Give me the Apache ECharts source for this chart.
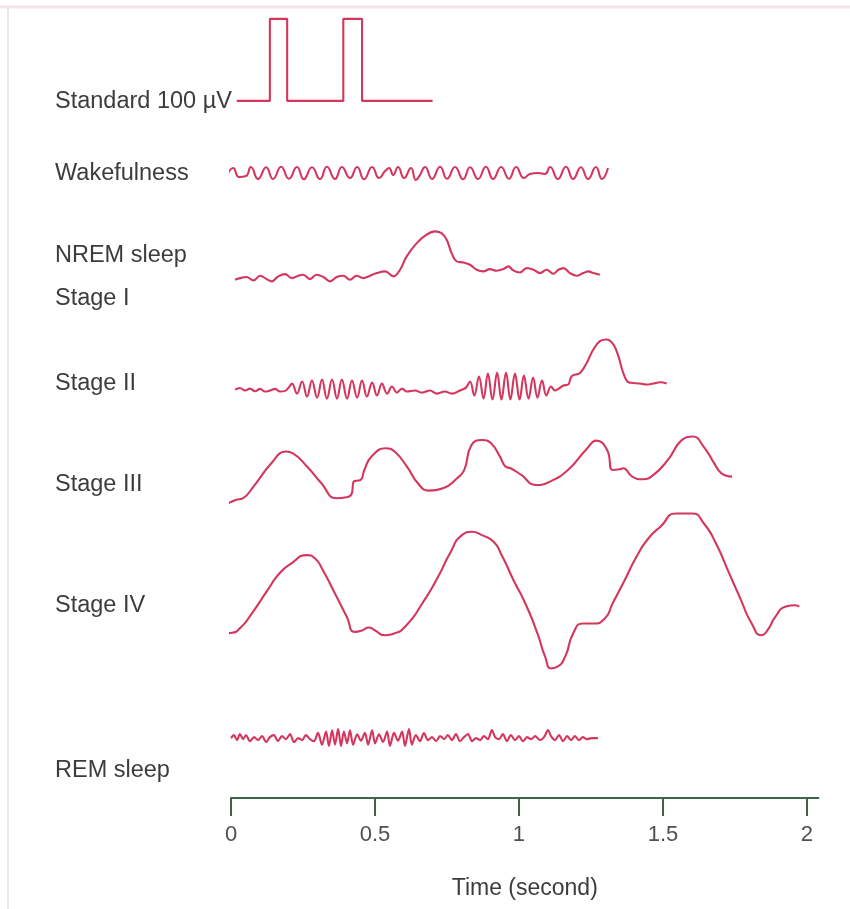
<!DOCTYPE html>
<html>
<head>
<meta charset="utf-8">
<title>EEG sleep stages</title>
<script src="https://cdn.jsdelivr.net/npm/echarts@6/dist/echarts.min.js"></script>
<style>
  html, body { margin: 0; padding: 0; background: #fff; }
  #chart { width: 850px; height: 909px; }
</style>
</head>
<body>
<div id="chart"></div>
<script>
// time in seconds, amplitude in microvolts (relative to each trace's own baseline)
const timeTicks = [0, 0.5, 1, 1.5, 2];
const rowLabels = ['Standard 100 µV', 'Wakefulness', 'NREM sleep', 'Stage I', 'Stage II', 'Stage III', 'Stage IV', 'REM sleep'];

const standardTrace = [[0.02, 0], [0.135, 0], [0.135, 100], [0.195, 100], [0.195, 0], [0.39, 0], [0.39, 100], [0.455, 100], [0.455, 0], [0.70, 0]];

const wakeTrace = [[-0.010, 0], [0.007, 6.1], [0.028, -4.9], [0.052, -3.7], [0.069, 7.3], [0.094, -7.3], [0.122, 7.0], [0.146, -7.3], [0.174, 7.6], [0.201, -7.0], [0.229, 7.3], [0.253, -7.6], [0.281, 7.0], [0.309, -7.3], [0.333, 7.6], [0.361, -7.3], [0.385, 7.3], [0.413, -6.1], [0.438, 7.3], [0.462, -7.6], [0.490, 7.3], [0.514, -6.1], [0.535, 2.4], [0.549, 6.1], [0.563, -2.4], [0.580, 7.3], [0.601, -6.1], [0.625, 6.1], [0.642, -8.5], [0.656, -2.4], [0.674, 7.3], [0.698, -7.3], [0.726, 7.6], [0.750, -7.0], [0.778, 7.3], [0.806, -7.6], [0.830, 7.0], [0.858, -7.3], [0.885, 7.6], [0.910, -7.3], [0.938, 7.3], [0.965, -7.0], [0.990, 7.3], [1.017, -6.1], [1.038, -1.2], [1.066, 0], [1.090, -1.2], [1.108, 7.3], [1.135, -7.3], [1.163, 7.6], [1.188, -7.3], [1.215, 7.0], [1.240, -7.3], [1.267, 7.3], [1.288, -7.3], [1.309, 6.1]];

const stage1Trace = [[0.014, -6.1], [0.031, -4.1], [0.054, -2.8], [0.078, -6.9], [0.101, -1.2], [0.124, -5.3], [0.141, -8.1], [0.164, -2.0], [0.188, 0.8], [0.211, -4.1], [0.234, -1.2], [0.251, 0], [0.274, -5.3], [0.297, 0], [0.321, -2.8], [0.344, -8.1], [0.367, -2.8], [0.390, -1.2], [0.413, -6.1], [0.436, -1.2], [0.459, -4.1], [0.483, -1.2], [0.506, 2.0], [0.535, 4.1], [0.564, -2.0], [0.587, 6.1], [0.610, 22.4], [0.645, 38.6], [0.679, 48.8], [0.708, 52.9], [0.731, 50.8], [0.749, 42.7], [0.766, 26.4], [0.784, 16.3], [0.807, 15.0], [0.830, 12.2], [0.853, 6.1], [0.876, 4.1], [0.899, 6.9], [0.922, 4.9], [0.946, 6.9], [0.963, 10.2], [0.980, 5.3], [1.003, 2.8], [1.027, 8.1], [1.050, 6.1], [1.073, 2.0], [1.096, 6.1], [1.119, 1.2], [1.137, 6.1], [1.154, 8.1], [1.177, 2.0], [1.200, -1.2], [1.223, 2.0], [1.241, 4.1], [1.258, 2.0], [1.281, 0]];

const stage2Trace = [[0.014, 0], [0.031, 2.0], [0.049, -1.2], [0.066, 1.2], [0.083, -2.0], [0.101, 0.8], [0.118, -2.4], [0.135, -1.2], [0.153, 0.8], [0.170, -2.4], [0.188, -1.6], [0.200, 2.4],
  [0.212, 7.3], [0.229, -4.9], [0.247, 9.8], [0.264, -8.5], [0.281, 11.0], [0.299, -9.8], [0.316, 12.2], [0.333, -11.0], [0.351, 12.2], [0.368, -11.0], [0.385, 12.2], [0.403, -11.0], [0.420, 11.0], [0.438, -9.8], [0.455, 11.0], [0.472, -8.5], [0.490, 8.5], [0.507, -7.3], [0.524, 7.3], [0.542, -4.9], [0.559, 3.7], [0.576, -3.7], [0.594, 1.2], [0.611, -2.4],
  [0.639, -1.2], [0.663, -3.7], [0.691, -1.2], [0.715, -4.9], [0.743, -2.4], [0.767, -4.9], [0.795, -1.2], [0.816, 2.4],
  [0.830, 9.8], [0.845, -7.3], [0.861, 15.9], [0.877, -11.0], [0.892, 19.5], [0.908, -12.2], [0.924, 20.7], [0.939, -12.2], [0.955, 20.7], [0.970, -12.2], [0.986, 19.5], [1.002, -12.2], [1.017, 17.1], [1.033, -11.0], [1.049, 14.6], [1.064, -9.8], [1.080, 11.0], [1.095, -7.3], [1.111, 3.7], [1.125, -1.2],
  [1.137, 0.8], [1.154, 4.9], [1.171, 6.1], [1.183, 16.3], [1.212, 20.3], [1.235, 32.5], [1.258, 48.8], [1.281, 59.0], [1.304, 61.0], [1.328, 54.9], [1.345, 40.7], [1.362, 20.3], [1.380, 8.9], [1.397, 8.1], [1.420, 7.3], [1.443, 6.1], [1.466, 7.3], [1.490, 8.9], [1.513, 7.3]];

const stage3Trace = [[-0.021, -42.7], [0.016, -36.6], [0.041, -34.6], [0.078, -20.3], [0.140, 8.1], [0.190, 22.4], [0.215, 20.3], [0.264, 4.1], [0.314, -16.3], [0.364, -34.6], [0.401, -33.4], [0.419, -29.3], [0.426, -14.2], [0.450, -12.2], [0.463, 0], [0.488, 16.3], [0.537, 26.4], [0.568, 22.4], [0.611, 4.1], [0.649, -16.3], [0.686, -25.2], [0.736, -22.4], [0.785, -10.2], [0.810, 0], [0.835, 30.5], [0.872, 36.6], [0.903, 32.5], [0.934, 16.3], [0.953, 4.1], [0.971, 2.0], [1.008, -6.1], [1.058, -18.3], [1.108, -14.2], [1.170, 0], [1.232, 24.4], [1.269, 35.8], [1.306, 24.4], [1.325, 0], [1.349, 0.8], [1.362, 2.0], [1.393, -8.1], [1.430, -11.4], [1.467, -6.1], [1.517, 12.2], [1.566, 36.6], [1.604, 40.7], [1.641, 28.5], [1.678, 8.1], [1.703, -4.1], [1.740, -8.1]];

const stage4Trace = [[-0.025, -39.4], [0.002, -38.6], [0.030, -33.4], [0.072, -15.1], [0.127, 13.4], [0.168, 33.7], [0.209, 45.9], [0.264, 56.1], [0.292, 52.0], [0.319, 37.8], [0.361, 9.4], [0.402, -19.1], [0.430, -37.4], [0.457, -35.4], [0.478, -32.1], [0.499, -35.4], [0.533, -41.5], [0.567, -39.4], [0.609, -29.3], [0.664, -2.8], [0.719, 29.7], [0.760, 58.2], [0.802, 80.5], [0.836, 84.6], [0.871, 80.5], [0.912, 72.4], [0.940, 56.1], [0.981, 25.6], [1.022, -2.8], [1.064, -39.4], [1.091, -67.9], [1.112, -82.1], [1.132, -80.1], [1.160, -67.9], [1.188, -39.4], [1.222, -27.2], [1.257, -27.2], [1.298, -21.1], [1.325, -2.8], [1.367, 25.6], [1.408, 54.1], [1.449, 76.4], [1.491, 90.7], [1.546, 106.9], [1.601, 106.9], [1.642, 94.7], [1.684, 70.3], [1.725, 37.8], [1.766, 5.3], [1.808, -27.2], [1.842, -41.5], [1.863, -35.4], [1.890, -19.1], [1.925, -6.9], [1.959, -4.9], [1.973, -6.9]];

const remTrace = [[0.000, 0], [0.010, 3.7], [0.021, -2.4], [0.031, 4.9], [0.042, -1.2], [0.052, 3.7], [0.066, -3.7], [0.080, 1.2], [0.094, -2.4], [0.108, 2.4], [0.122, -4.9], [0.135, 1.2], [0.149, 3.7], [0.163, -3.7], [0.177, 2.4], [0.191, -1.2], [0.205, 4.9], [0.219, -4.9], [0.233, 0], [0.247, -2.4], [0.260, 3.7], [0.274, -1.2], [0.288, -3.7],
  [0.302, 6.4], [0.316, -7.9], [0.330, 7.9], [0.340, -9.5], [0.351, 9.5], [0.361, -7.9], [0.372, 11.0], [0.382, -9.5], [0.392, 7.9], [0.403, -6.4], [0.413, 9.5], [0.424, -7.9], [0.438, 4.8], [0.451, -3.1], [0.465, 6.4], [0.476, -7.9], [0.490, 9.5], [0.500, -6.4], [0.514, 4.8], [0.528, -4.8], [0.542, 7.9], [0.552, -9.5], [0.566, 6.4], [0.580, -3.1], [0.594, 7.9], [0.604, -9.5], [0.618, 11.0], [0.628, -7.9],
  [0.642, 3.7], [0.656, -3.7], [0.670, 6.1], [0.684, -2.4], [0.698, 1.2], [0.712, -3.7], [0.726, 2.4], [0.740, -1.2], [0.753, 3.7], [0.767, -2.4], [0.781, 4.9], [0.795, -3.7], [0.809, 1.2], [0.823, 4.9], [0.837, -3.7], [0.851, 0], [0.865, -2.4], [0.878, 2.4], [0.892, -1.2], [0.906, 9.8], [0.917, 1.2], [0.931, -1.2], [0.944, 4.9], [0.958, -3.7], [0.972, 3.7], [0.986, -2.4], [1.000, 2.4], [1.014, -3.7], [1.028, 1.2], [1.042, -1.2], [1.056, 2.4], [1.073, -2.4], [1.087, 1.2], [1.101, 9.8], [1.111, 2.4], [1.125, -2.4], [1.139, 3.7], [1.153, -3.7], [1.167, 2.4], [1.181, -2.4], [1.194, 2.4], [1.208, -2.4], [1.222, 1.2], [1.236, -1.2], [1.253, 0], [1.274, 0]];

// baseline of each trace on the shared microvolt axis
const baselines = { standard: 850, wake: 762, stage1: 638, stage2: 498, stage3: 400, stage4: 240, rem: 73 };

const lineColor = '#d4375d';
const textColor = '#3c3c3c';
const fontFamily = '"Liberation Sans", Arial, sans-serif';
const labelFont = '23.5px ' + fontFamily;

function shift(trace, base) {
  return trace.map(function (p) { return [p[0], base + p[1]]; });
}

function traceSeries(name, trace, base, smooth) {
  return {
    name: name,
    type: 'line',
    data: shift(trace, base),
    smooth: smooth,
    showSymbol: false,
    clip: false,
    silent: true,
    lineStyle: { color: lineColor, width: 2.1 }
  };
}

// left labels, vertical centres in px
const labelY = [102, 174, 256, 299, 384, 485, 606, 771];

const chart = echarts.init(document.getElementById('chart'), null, { renderer: 'canvas' });

const option = {
  backgroundColor: '#ffffff',
  animation: false,
  grid: { left: 231, top: 0, width: 587.5, height: 798 },
  xAxis: {
    type: 'value',
    min: 0,
    max: 2.04,
    name: 'Time (second)',
    nameLocation: 'middle',
    nameGap: 79,
    nameTextStyle: { fontSize: 23, color: textColor, fontFamily: fontFamily },
    splitLine: { show: false },
    axisLine: { onZero: false, lineStyle: { color: '#3f6548', width: 2 } },
    axisTick: { show: true, length: 18, customValues: timeTicks, lineStyle: { color: '#3f6548', width: 2 } },
    axisLabel: {
      customValues: timeTicks,
      margin: 26,
      fontSize: 22,
      color: '#505050',
      fontFamily: fontFamily
    }
  },
  yAxis: {
    type: 'value',
    min: 0,
    max: 973,
    show: false
  },
  graphic: [
    { type: 'line', shape: { x1: 0, y1: 7, x2: 850, y2: 7 }, style: { stroke: '#f8e1e7', lineWidth: 3 }, silent: true },
    { type: 'line', shape: { x1: 8, y1: 8, x2: 8, y2: 909 }, style: { stroke: '#e8e8e8', lineWidth: 2 }, silent: true }
  ].concat(rowLabels.map(function (txt, i) {
    return {
      type: 'text',
      x: 55,
      y: labelY[i],
      silent: true,
      style: { text: txt, font: labelFont, fill: textColor, verticalAlign: 'middle' }
    };
  })),
  series: [
    traceSeries('Standard 100 µV', standardTrace, baselines.standard, false),
    traceSeries('Wakefulness', wakeTrace, baselines.wake, true),
    traceSeries('Stage I', stage1Trace, baselines.stage1, 0.4),
    traceSeries('Stage II', stage2Trace, baselines.stage2, 0.4),
    traceSeries('Stage III', stage3Trace, baselines.stage3, 0.5),
    traceSeries('Stage IV', stage4Trace, baselines.stage4, 0.6),
    traceSeries('REM sleep', remTrace, baselines.rem, 0.3)
  ]
};

chart.setOption(option);
</script>
</body>
</html>
